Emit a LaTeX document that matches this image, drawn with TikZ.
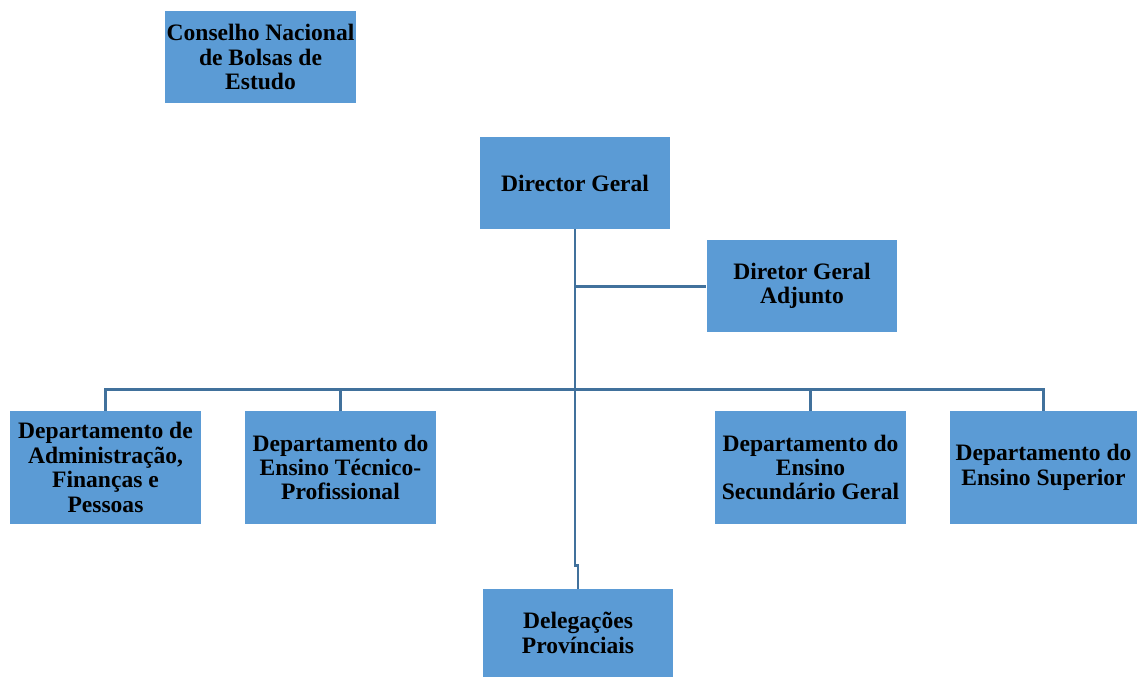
\documentclass[tikz,border=0pt]{standalone}
\usepackage{fontspec}
\setmainfont{Liberation Serif}
\definecolor{boxblue}{HTML}{5B9BD5}
\definecolor{lineblue}{HTML}{41719C}
\tikzset{
  unit/.style={fill=boxblue, minimum width=3.82cm, align=center, inner xsep=0pt,
    font=\bfseries\fontsize{13.4}{13.9}\selectfont, minimum height=#1},
  unit/.default=1.84cm,
  link/.style={draw=lineblue, line width=1.7pt}
}
\begin{document}
\begin{tikzpicture}[x=0.02cm, y=-0.02cm]
    \useasboundingbox (0,0) rectangle (1137,677);

    \node[unit] (cnbe) at (260.5,57) {Conselho Nacional\\de Bolsas de\\Estudo};
    \node[unit] (dg) at (575,183) {Director Geral};
    \node[unit] (dga) at (802,286) {Diretor Geral\\Adjunto};

    \node[unit=2.26cm] (dafp) at (105.5,467.5) {Departamento de\\Administração,\\Finanças e\\Pessoas};
    \node[unit=2.26cm] (detp) at (340.5,467.5) {Departamento do\\Ensino Técnico-\\Profissional};
    \node[unit=2.26cm] (desg) at (810.5,467.5) {Departamento do\\Ensino\\Secundário Geral};
    \node[unit=2.26cm, minimum width=3.74cm] (des) at (1043.5,467.5) {Departamento do\\Ensino Superior};
    \node[unit=1.76cm] (dp) at (578,633) {Delegações\\Provínciais};

    \coordinate (bus) at (575,389);
    \coordinate (jog) at (575,565);

    \draw[link] (dg.south) -- (jog) -- (jog -| dp.north) -- (dp.north);
    \draw[link] (dga.west) -- (dga.west -| dg.south);
    \draw[link] (dafp.north) |- (bus) -| (des.north);
    \draw[link] (detp.north) -- (detp.north |- bus);
    \draw[link] (desg.north) -- (desg.north |- bus);
\end{tikzpicture}
\end{document}
